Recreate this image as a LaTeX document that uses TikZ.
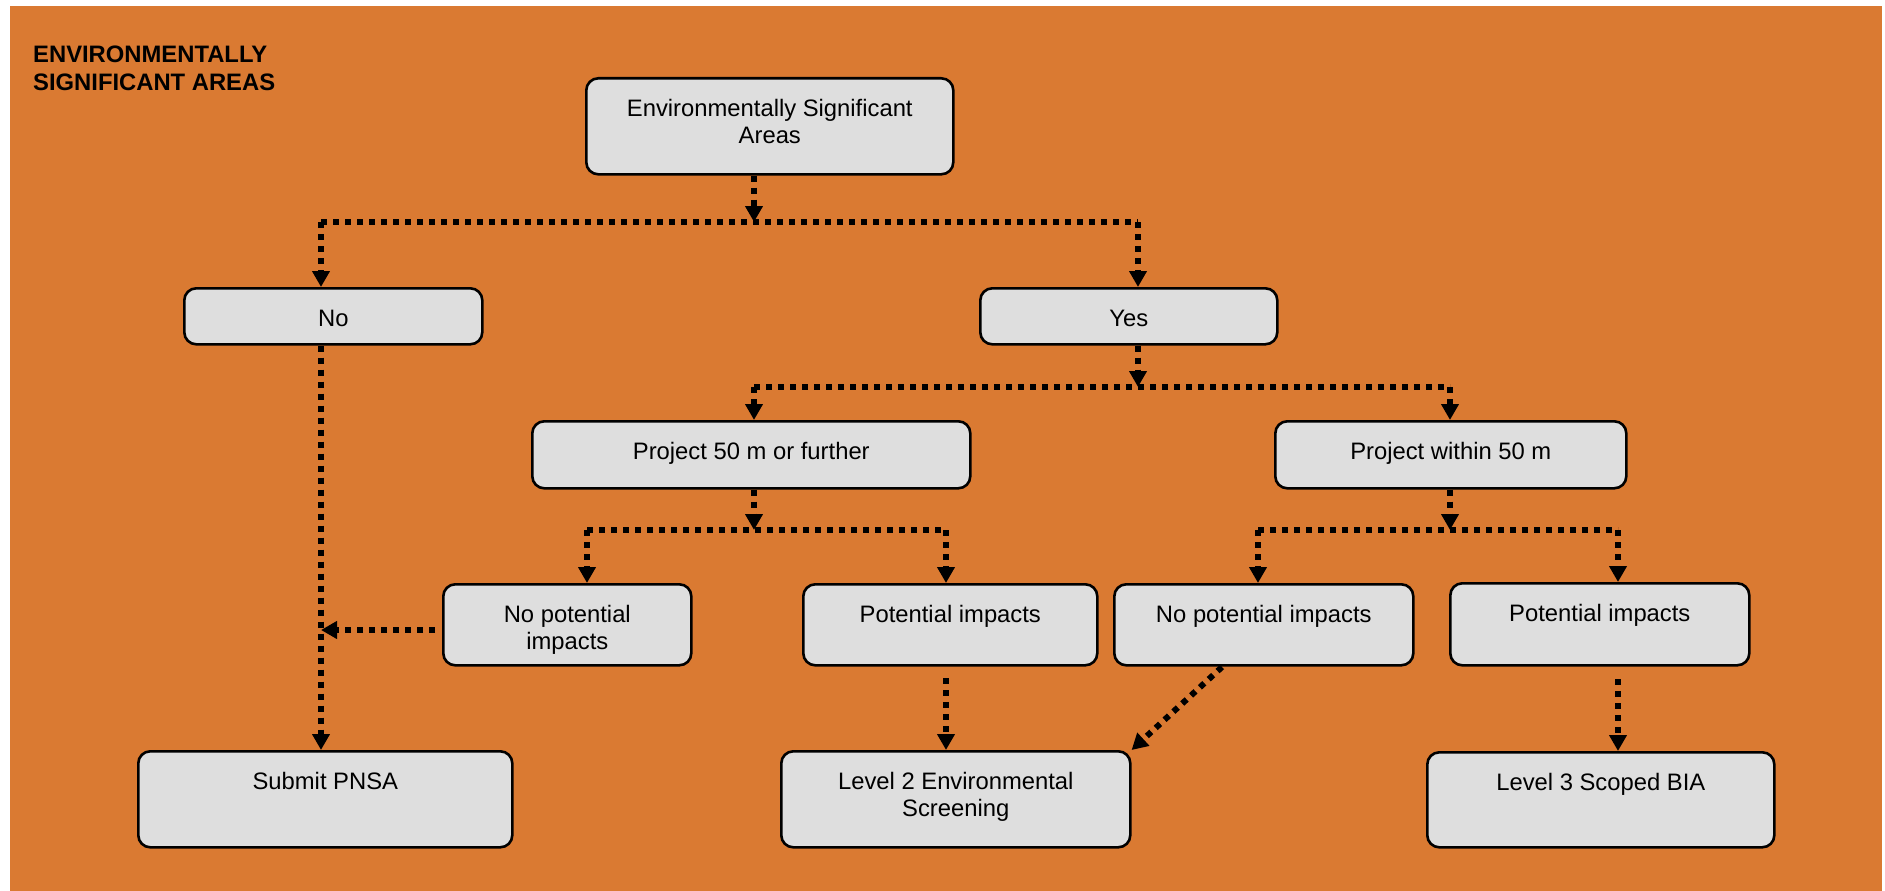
\documentclass[tikz,border=0pt]{standalone}
\usepackage{fontspec}
\setmainfont{Liberation Sans}
\usetikzlibrary{arrows.meta}
\definecolor{bgorange}{HTML}{DA7A32}
\definecolor{boxgray}{HTML}{DEDEDE}
\newcommand{\bt}[3]{\parbox[c][#2pt][t]{#1pt}{\centering\rule{0pt}{38pt}#3\par}}
\begin{document}
\begin{tikzpicture}[x=1pt,y=-1pt,
  every node/.style={font=\fontsize{23.8pt}{27.4pt}\selectfont},
  fbox/.style={draw=black, line width=2.6pt, rounded corners=12pt, fill=boxgray, inner sep=0pt, anchor=north west},
  dotarrow/.style={line width=6pt, dash pattern=on 6pt off 6pt, -{Triangle[length=16pt,width=17pt]}},
  dotline/.style={line width=6pt, dash pattern=on 6pt off 6pt}]
\useasboundingbox (0,0) rectangle (1885,891);
\fill[white] (0,0) rectangle (1885,891);
\fill[bgorange] (10,6) rectangle (1882,891);

\node[anchor=base west, inner sep=0pt, font=\fontsize{23.8pt}{27.4pt}\selectfont\bfseries] (title) at (33,63)
  {\parbox[t]{320pt}{\raggedright ENVIRONMENTALLY\\SIGNIFICANT AREAS}};

% boxes
\node[fbox] (top)  at (585,77)  {\bt{367}{96}{Environmentally Significant\\Areas}};
\node[fbox] (No)   at (183,287) {\bt{298}{56}{No}};
\node[fbox] (Yes)  at (979,287) {\bt{297}{56}{Yes}};
\node[fbox] (P50)  at (531,420) {\bt{438}{67}{Project 50 m or further}};
\node[fbox] (PW50) at (1274,420){\bt{351}{67}{Project within 50 m}};
\node[fbox] (NPI1) at (442,583) {\bt{248}{81}{No potential\\impacts}};
\node[fbox] (PI1)  at (802,583) {\bt{294}{81}{Potential impacts}};
\node[fbox] (NPI2) at (1113,583){\bt{299}{81}{No potential impacts}};
\node[fbox] (PI2)  at (1449,582){\bt{299}{82}{Potential impacts}};
\node[fbox] (PNSA) at (137,750) {\bt{374}{96}{Submit PNSA}};
\node[fbox] (L2)   at (780,750) {\bt{349}{96}{Level 2 Environmental\\Screening}};
\node[fbox] (L3)   at (1426,751){\bt{347}{95}{Level 3 Scoped BIA}};

% junction coordinates
\coordinate (j1) at (754,222);
\coordinate (c1) at (321,222);
\coordinate (c2) at (1138,222);
\coordinate (j2) at (1138,387);
\coordinate (c3) at (754,387);
\coordinate (c4) at (1450,387);
\coordinate (j3) at (754,530);
\coordinate (c5) at (587,530);
\coordinate (c6) at (946,530);
\coordinate (j4) at (1450,530);
\coordinate (c7) at (1258,530);
\coordinate (c8) at (1618,530);
\coordinate (s1) at (435,630);
\coordinate (m1) at (321,630);
\coordinate (s2) at (946,678);
\coordinate (s3) at (1222,667);
\coordinate (s4) at (1618,679);

% connectors
\draw[dotline] (c1) -- (c2);
\draw[dotarrow] (top.south -| j1) -- (j1);
\draw[dotarrow] (c1) -- (c1 |- No.north);
\draw[dotarrow] (c2) -- (c2 |- Yes.north);

\draw[dotline] (c3) -- (c4);
\draw[dotarrow] (Yes.south -| j2) -- (j2);
\draw[dotarrow] (c3) -- (c3 |- P50.north);
\draw[dotarrow] (c4) -- (c4 |- PW50.north);

\draw[dotline] (c5) -- (c6);
\draw[dotarrow] (P50.south -| j3) -- (j3);
\draw[dotarrow] (c5) -- (c5 |- NPI1.north);
\draw[dotarrow] (c6) -- (c6 |- PI1.north);

\draw[dotline] (c7) -- (c8);
\draw[dotarrow] (PW50.south -| j4) -- (j4);
\draw[dotarrow] (c7) -- (c7 |- NPI2.north);
\draw[dotarrow] (c8) -- (c8 |- PI2.north);

\draw[dotarrow] (No.south -| c1) -- (PNSA.north -| c1);
\draw[dotarrow] (s1) -- (m1);
\draw[dotarrow] (s2) -- (s2 |- L2.north);
\draw[dotarrow] (s3) -- (L2.north east);
\draw[dotarrow] (s4) -- (s4 |- L3.north);
\end{tikzpicture}
\end{document}
